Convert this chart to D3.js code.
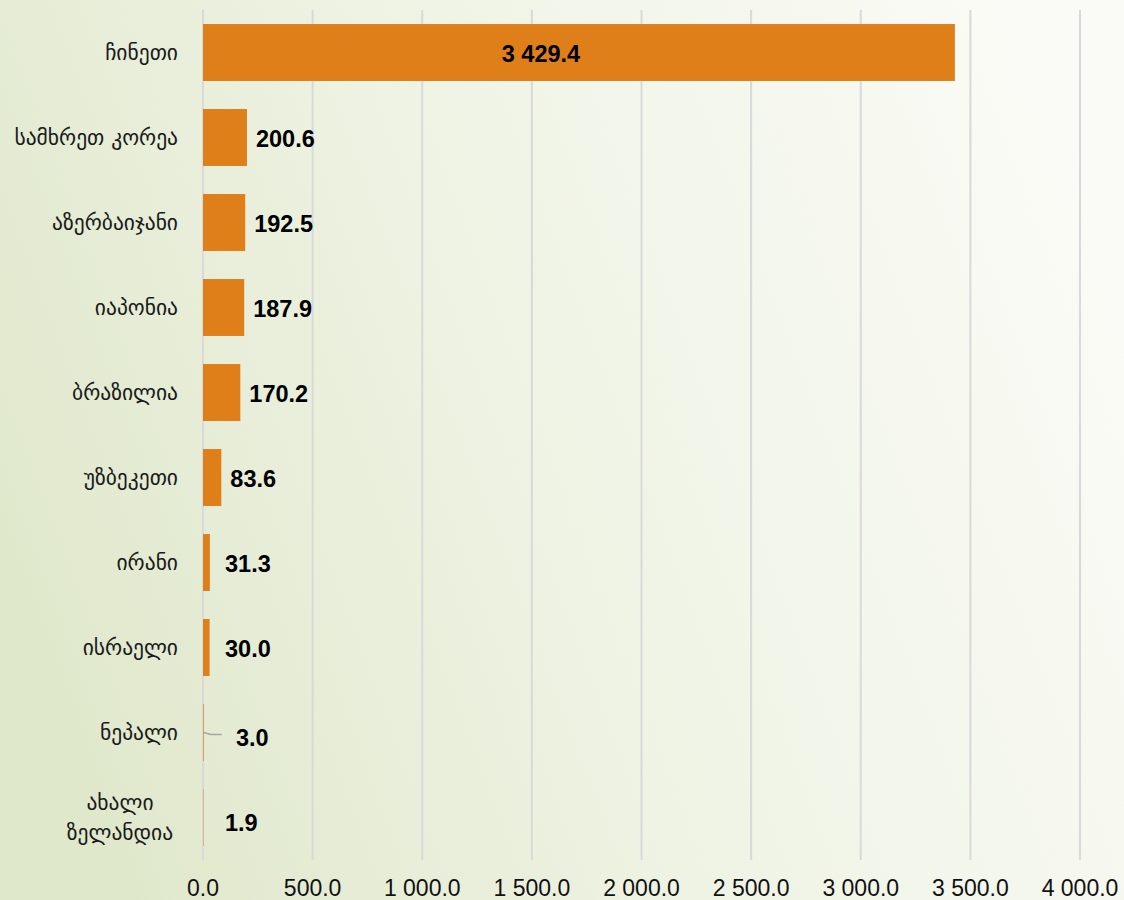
<!DOCTYPE html>
<html>
<head>
  <meta charset="utf-8">
  <title>Bar chart</title>
  <style>
    body { margin: 0; }
    .grid line { stroke: #d9d9d9; stroke-width: 2px; }
    .cat-label { font-family: "DejaVu Sans", sans-serif; font-size: 21.5px; fill: #1a1a1a; }
    .val-label { font-family: "Liberation Sans", Arial, sans-serif; font-size: 23.5px; font-weight: bold; fill: #000; }
    .tick-label { font-family: "Liberation Sans", Arial, sans-serif; font-size: 23px; fill: #111; }
  </style>
</head>
<body>
  <div id="chart"></div>
  <script src="https://d3js.org/d3.v7.min.js"></script>
  <script>
    const width = 1124, height = 900;

    const countries = [
      ["ჩინეთი"],
      ["სამხრეთ კორეა"],
      ["აზერბაიჯანი"],
      ["იაპონია"],
      ["ბრაზილია"],
      ["უზბეკეთი"],
      ["ირანი"],
      ["ისრაელი"],
      ["ნეპალი"],
      ["ახალი", "ზელანდია"]
    ];
    const values = [3429.4, 200.6, 192.5, 187.9, 170.2, 83.6, 31.3, 30.0, 3.0, 1.9];
    const xTicks = [0, 500, 1000, 1500, 2000, 2500, 3000, 3500, 4000];

    const plot = { left: 203, right: 1080, top: 10, bottom: 860 };

    const svg = d3.select("#chart")
      .append("svg")
      .attr("width", width)
      .attr("height", height);

    // background gradient
    const defs = svg.append("defs");
    const grad = defs.append("linearGradient")
      .attr("id", "bg")
      .attr("x1", "0%").attr("y1", "60%")
      .attr("x2", "100%").attr("y2", "30%");
    grad.append("stop").attr("offset", "0%").attr("stop-color", "#e0e8cc");
    grad.append("stop").attr("offset", "47%").attr("stop-color", "#eff3e4");
    grad.append("stop").attr("offset", "100%").attr("stop-color", "#fafbf6");
    svg.append("rect").attr("width", width).attr("height", height).attr("fill", "url(#bg)");

    const xScale = d3.scaleLinear()
      .domain([0, 4000])
      .range([plot.left, plot.right]);

    const yScale = d3.scaleBand()
      .domain(d3.range(values.length))
      .range([plot.top, plot.bottom])
      .paddingInner(0.33)
      .paddingOuter(0.165);

    // vertical grid lines
    svg.append("g")
      .attr("class", "grid")
      .selectAll("line")
      .data(xTicks)
      .enter()
      .append("line")
      .attr("x1", d => xScale(d))
      .attr("x2", d => xScale(d))
      .attr("y1", plot.top)
      .attr("y2", plot.bottom);

    // x tick labels
    const fmt = v => d3.format(",.1f")(v).replace(/,/g, " ");
    svg.append("g")
      .selectAll("text")
      .data(xTicks)
      .enter()
      .append("text")
      .attr("class", "tick-label")
      .attr("x", d => xScale(d))
      .attr("y", 896)
      .attr("text-anchor", "middle")
      .text(d => fmt(d));

    // bars
    svg.append("g")
      .selectAll("rect")
      .data(values)
      .enter()
      .append("rect")
      .attr("x", xScale(0))
      .attr("y", (d, i) => yScale(i))
      .attr("width", d => xScale(d) - xScale(0))
      .attr("height", yScale.bandwidth())
      .attr("fill", "#df7f1a");

    // category labels
    const catG = svg.append("g");
    countries.forEach((lines, i) => {
      const cy = yScale(i) + yScale.bandwidth() / 2;
      const t = catG.append("text")
        .attr("class", "cat-label")
        .attr("text-anchor", "middle")
        .attr("y", cy - (lines.length - 1) * 15 + 7);
      lines.forEach((ln, k) => {
        t.append("tspan")
          .attr("x", lines.length > 1 ? 120 : null)
          .attr("dy", k === 0 ? 0 : 30)
          .text(ln);
      });
      if (lines.length === 1) {
        t.attr("text-anchor", "end").attr("x", 178);
      }
    });

    // value labels (the two tiny bars get labels nudged a bit lower)
    svg.append("g")
      .selectAll("text")
      .data(values)
      .enter()
      .append("text")
      .attr("class", "val-label")
      .attr("x", (d, i) => {
        if (i === 0) return xScale(d / 2) - 38;
        if (i === 8) return 236;
        return Math.max(xScale(d) + 9, 225);
      })
      .attr("y", (d, i) => yScale(i) + yScale.bandwidth() / 2 + 9 + (i >= 8 ? 4 : 0))
      .attr("text-anchor", (d, i) => i === 0 ? "middle" : "start")
      .text(d => fmt(d));

    // leader line for the tiny bar label
    const ny = yScale(8) + yScale.bandwidth() / 2 + 2;
    svg.append("path")
      .attr("d", `M${xScale(values[8])},${ny - 2} L${xScale(values[8]) + 7},${ny} L${xScale(values[8]) + 18},${ny}`)
      .attr("fill", "none")
      .attr("stroke", "#a6a6a6")
      .attr("stroke-width", 1.5);
  </script>
</body>
</html>
